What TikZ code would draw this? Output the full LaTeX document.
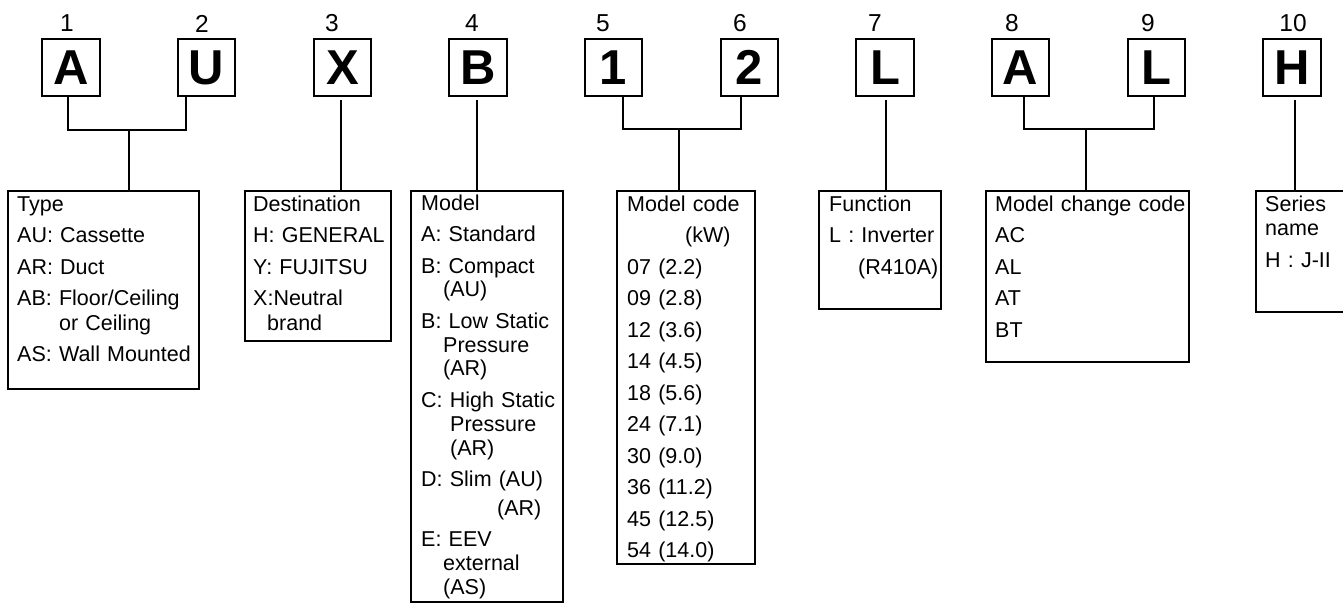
\documentclass[tikz,border=0pt]{standalone}
\usepackage{fontspec}
\setmainfont{Liberation Sans}
\begin{document}
\begin{tikzpicture}[x=1pt,y=-1pt,
  lbox/.style={draw,line width=2pt,minimum width=57.5pt,minimum height=57pt,inner sep=0pt,outer sep=0pt,font=\fontsize{49}{49}\selectfont\bfseries},
  num/.style={inner sep=0pt,font=\fontsize{24.5}{24.5}\selectfont},
  dbox/.style={draw,line width=2pt,anchor=north west,inner sep=0pt,outer sep=0pt},
  dtext/.style={anchor=base west,inner sep=0pt,align=left,text width=200pt,font=\fontsize{21.5}{24.5}\selectfont},
  conn/.style={line width=2pt}]
\clip (0,0) rectangle (1343,603);
% letter boxes
\node[lbox] (A1) at (71,67.5) {A};
\node[lbox] (U)  at (206.5,67.5) {U};
\node[lbox] (X)  at (342.5,67.5) {X};
\node[lbox] (B)  at (478,67.5) {B};
\node[lbox] (N1) at (613.5,67.5) {1};
\node[lbox] (N2) at (749.5,67.5) {2};
\node[lbox] (L)  at (885,67.5) {L};
\node[lbox] (A2) at (1020.5,67.5) {A};
\node[lbox] (L2) at (1156.5,67.5) {L};
\node[lbox] (H)  at (1292,67.5) {H};
% numbers
\node[num] (p1) at (67,23.5) {1};
\node[num] (p2) at (202,23.5) {2};
\node[num] (p3) at (332,23.5) {3};
\node[num] (p4) at (472,23.5) {4};
\node[num] (p5) at (603,23.5) {5};
\node[num] (p6) at (740,23.5) {6};
\node[num] (p7) at (875,23.5) {7};
\node[num] (p8) at (1012,23.5) {8};
\node[num] (p9) at (1148,23.5) {9};
\node[num] (p10) at (1293,23.5) {10};
% description boxes
\node[dbox,minimum width=191pt,minimum height=198pt] (typebox) at (8,191) {};
\node[dbox,minimum width=146pt,minimum height=150pt] (destbox) at (245,191) {};
\node[dbox,minimum width=152pt,minimum height=411pt] (modelbox) at (411,191) {};
\node[dbox,minimum width=138pt,minimum height=373pt] (codebox) at (617,191) {};
\node[dbox,minimum width=122pt,minimum height=118pt] (funcbox) at (819,191) {};
\node[dbox,minimum width=203pt,minimum height=171pt] (mcbox) at (986,191) {};
\node[dbox,minimum width=120pt,minimum height=121pt] (serbox) at (1256,191) {};
% texts
\node[dtext] (typetxt) at (17,211) {Type\\[7pt]AU: Cassette\\[7pt]AR: Duct\\[7pt]AB: Floor/Ceiling\\\hspace*{42pt}or Ceiling\\[7pt]AS: Wall Mounted};
\node[dtext] (desttxt) at (253,211) {Destination\\[7pt]H: GENERAL\\[7pt]Y: FUJITSU\\[7pt]X:Neutral\\\hspace*{14pt}brand};
\node[dtext,font=\fontsize{21.5}{23.8}\selectfont] (modeltxt) at (421,210) {Model\\[7.7pt]A: Standard\\[7.7pt]B: Compact\\\hspace*{22pt}(AU)\\[7.7pt]B: Low Static\\\hspace*{22pt}Pressure\\\hspace*{22pt}(AR)\\[7.7pt]C: High Static\\\hspace*{29pt}Pressure\\\hspace*{29pt}(AR)\\[7.7pt]D: Slim (AU)\\[5.5pt]\hspace*{76pt}(AR)\\[7pt]E: EEV\\\hspace*{22pt}external\\\hspace*{22pt}(AS)};
\node[dtext] (codetxt) at (627,211) {Model code\\[7pt]\hspace*{58pt}(kW)\\[7pt]07 (2.2)\\[7pt]09 (2.8)\\[7pt]12 (3.6)\\[7pt]14 (4.5)\\[7pt]18 (5.6)\\[7pt]24 (7.1)\\[7pt]30 (9.0)\\[7pt]36 (11.2)\\[7pt]45 (12.5)\\[7pt]54 (14.0)};
\node[dtext] (functxt) at (829,211) {Function\\[7pt]L : Inverter\\[7pt]\hspace*{29pt}(R410A)};
\node[dtext] (mctxt) at (995,211) {Model change code\\[7pt]AC\\[7pt]AL\\[7pt]AT\\[7pt]BT};
\node[dtext] (sertxt) at (1265,211) {Series\\name\\[7pt]H : J-II};
% bracket connectors
\coordinate (b1l) at (68,130);
\coordinate (b1r) at (186,130);
\coordinate (b1j) at (129,130);
\draw[conn] (b1l |- A1.south) -- (b1l) -- (b1r) -- (b1r |- U.south);
\draw[conn] (b1j) -- (b1j |- typebox.north);
\coordinate (b2l) at (623,129);
\coordinate (b2r) at (741,129);
\coordinate (b2j) at (679,129);
\draw[conn] (b2l |- N1.south) -- (b2l) -- (b2r) -- (b2r |- N2.south);
\draw[conn] (b2j) -- (b2j |- codebox.north);
\coordinate (b3l) at (1024,129);
\coordinate (b3r) at (1154,129);
\coordinate (b3j) at (1086,129);
\draw[conn] (b3l |- A2.south) -- (b3l) -- (b3r) -- (b3r |- L2.south);
\draw[conn] (b3j) -- (b3j |- mcbox.north);
% single connectors
\coordinate (sX) at (341,100);
\draw[conn] (sX) -- (sX |- destbox.north);
\coordinate (sB) at (477,100);
\draw[conn] (sB) -- (sB |- modelbox.north);
\coordinate (sL) at (886,100);
\draw[conn] (sL) -- (sL |- funcbox.north);
\coordinate (sH) at (1295,100);
\draw[conn] (sH) -- (sH |- serbox.north);
\end{tikzpicture}
\end{document}
